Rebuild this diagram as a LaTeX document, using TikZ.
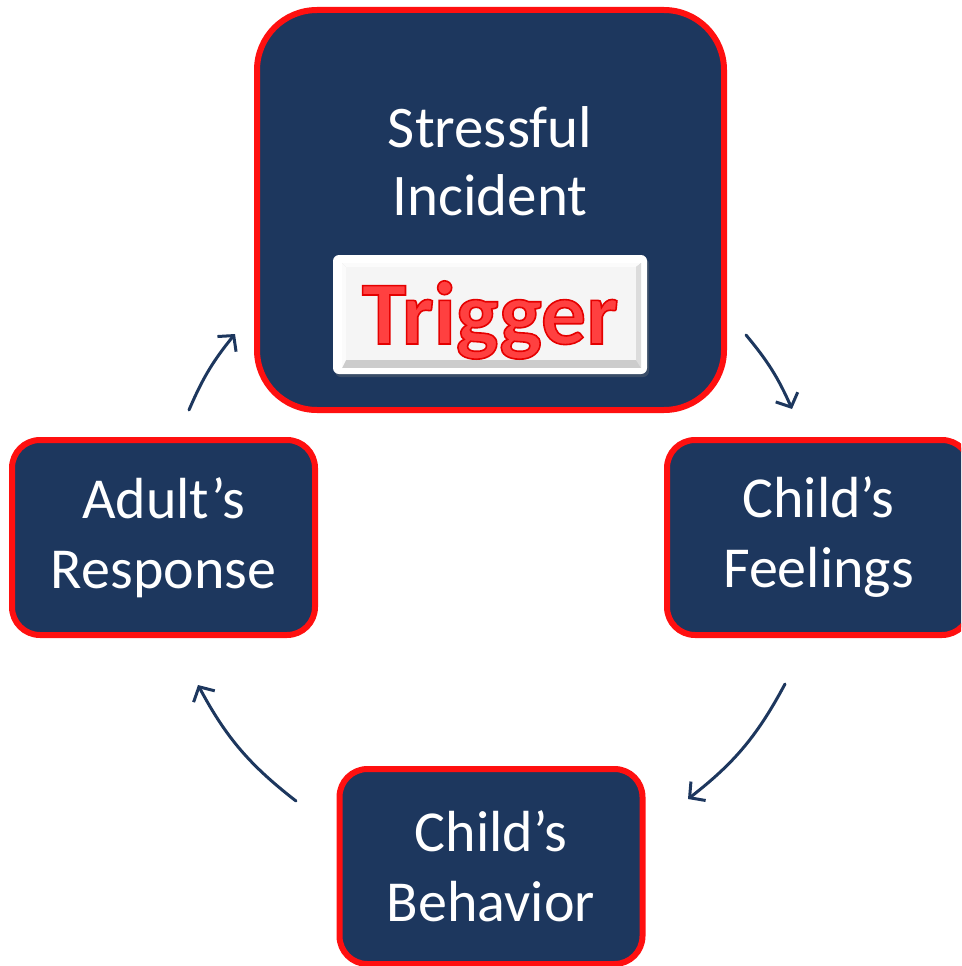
\documentclass[tikz,border=0pt]{standalone}
\usepackage{fontspec}
\setmainfont{Carlito}
\usetikzlibrary{arrows.meta,shadows,calc}
\definecolor{navy}{RGB}{29,55,94}
\definecolor{ringred}{RGB}{255,16,16}
\definecolor{trigfill}{RGB}{255,64,64}
\definecolor{bevellight}{RGB}{251,251,251}
\definecolor{bevelface}{RGB}{245,245,245}
\definecolor{beveldark}{RGB}{204,204,204}
\definecolor{bevelmid}{RGB}{220,220,220}
% filled letters with a darker red outline
\newcommand{\outlinedword}[1]{\special{pdf:literal direct 2 Tr 0.9 0 0 RG 1.6 w}#1\special{pdf:literal direct 0 Tr}}
\begin{document}
\begin{tikzpicture}[x=1pt,y=-1pt,
  stage/.style={draw=ringred, line width=6pt, fill=navy, text=white, align=center,
    font=\fontsize{58}{70}\selectfont, rounded corners=28pt,
    minimum width=303pt, minimum height=195pt, inner sep=0pt},
  caption/.style={text=white, align=center, font=\fontsize{59}{68}\selectfont, inner sep=0pt},
  flow/.style={draw=navy, line width=3pt, line cap=round,
    -{Straight Barb[length=11pt,width=24pt,line width=3pt]}}]
\useasboundingbox (0,0) rectangle (961,966);
\begin{scope}
\clip (0,0) rectangle (961,966);
% top stage with the trigger plate
\node[stage, rounded corners=60pt, minimum width=467pt, minimum height=400pt] (incident) at (490.5,210) {};
\node[caption] (incidenttext) at (490,161) {Stressful\\Incident};
\node[fill=white, rounded corners=6pt, minimum width=314pt, minimum height=119pt, inner sep=0pt,
  drop shadow={shadow xshift=2pt, shadow yshift=-3pt, opacity=0.3}] (trigger) at (490,314.5) {};
\fill[beveldark] (342,263) rectangle (641,368);
\fill[bevellight] (342,263) -- (641,263) -- (636,267) -- (346,267) -- cycle;
\fill[bevellight] (342,263) -- (346,267) -- (346,360) -- (342,368) -- cycle;
\fill[bevelmid] (641,263) -- (641,368) -- (636,360) -- (636,267) -- cycle;
\fill[bevelface] (346,267) rectangle (636,360);
\node[text=trigfill, font=\fontsize{90}{100}\bfseries\selectfont, inner sep=0pt] (triggertext) at (490,320) {\outlinedword{Trigger}};
% the other three stages
\node[stage] (feelings) at (818.5,537.5) {Child’s\\Feelings};
\node[stage] (behavior) at (491,866.5) {Child’s\\Behavior};
\node[stage] (response) at (163.5,537.5) {Adult’s\\Response};
% arrows around the cycle
\coordinate (f1) at (746,335);
\coordinate (t1) at (792,409);
\coordinate (f2) at (785,684);
\coordinate (t2) at (688,799);
\coordinate (f3) at (296,801);
\coordinate (t3) at (198,685);
\coordinate (f4) at (189,410);
\coordinate (t4) at (235,334);
\draw[flow] (f1) to[bend left=8] (t1);
\draw[flow] (f2) to[bend left=12] (t2);
\draw[flow] (f3) to[bend left=12] (t3);
\draw[flow] (f4) to[bend left=8] (t4);
\end{scope}
\end{tikzpicture}
\end{document}
